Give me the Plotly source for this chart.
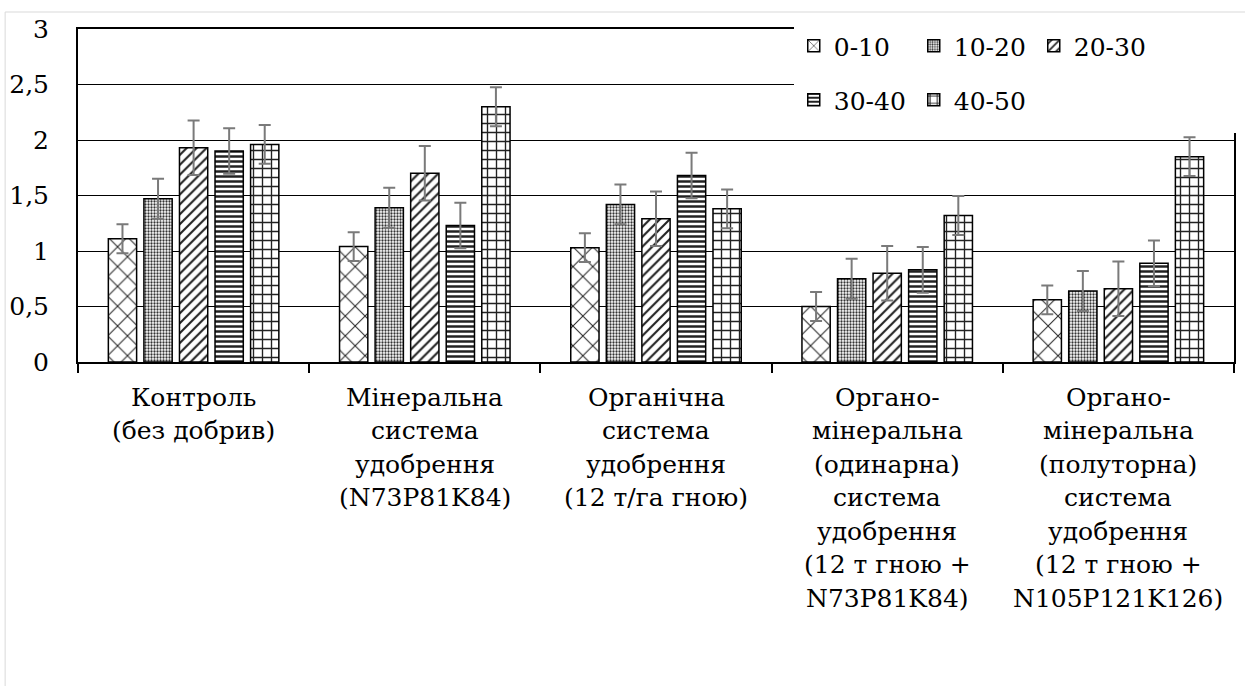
import plotly.graph_objects as go

categories = [
    "Контроль<br>(без добрив)",
    "Мінеральна<br>система<br>удобрення<br>(N73P81K84)",
    "Органічна<br>система<br>удобрення<br>(12 т/га гною)",
    "Органо-<br>мінеральна<br>(одинарна)<br>система<br>удобрення<br>(12 т гною +<br>N73P81K84)",
    "Органо-<br>мінеральна<br>(полуторна)<br>система<br>удобрення<br>(12 т гною +<br>N105P121K126)",
]
layers = ["0-10", "10-20", "20-30", "30-40", "40-50"]
v_0_10 = [1.11, 1.04, 1.03, 0.50, 0.56]
v_10_20 = [1.47, 1.39, 1.42, 0.75, 0.64]
v_20_30 = [1.93, 1.70, 1.29, 0.80, 0.66]
v_30_40 = [1.90, 1.23, 1.68, 0.83, 0.89]
v_40_50 = [1.96, 2.30, 1.38, 1.32, 1.85]
err = [0.13, 0.18, 0.245, 0.205, 0.175]

values = [v_0_10, v_10_20, v_20_30, v_30_40, v_40_50]
patterns = [
    dict(shape="x", size=14, solidity=0.14, fgcolor="#222", bgcolor="white", fillmode="replace"),
    dict(shape=".", size=3, solidity=0.45, fgcolor="#333", bgcolor="white", fillmode="replace"),
    dict(shape="/", size=7, solidity=0.3, fgcolor="#222", bgcolor="white", fillmode="replace"),
    dict(shape="-", size=5, solidity=0.5, fgcolor="#222", bgcolor="white", fillmode="replace"),
    dict(shape="+", size=9, solidity=0.28, fgcolor="#222", bgcolor="white", fillmode="replace"),
]
legend_ids = ["legend", "legend", "legend", "legend2", "legend2"]

FONT = "DejaVu Serif"
FS = 25

fig = go.Figure()
for name, vals, e, pat, lg in zip(layers, values, err, patterns, legend_ids):
    fig.add_trace(go.Bar(
        x=categories, y=vals, name=name, legend=lg,
        marker=dict(color="white", pattern=pat, line=dict(color="black", width=1.5)),
        error_y=dict(type="constant", value=e, color="#7a7a7a", thickness=2, width=6),
    ))

# category labels, one annotation per text line (tighter line spacing like the original)
for cat in categories:
    for j, line in enumerate(cat.split("<br>")):
        fig.add_annotation(x=cat, xref="x", y=0, yref="y", yanchor="middle",
                           yshift=-(35 + 33.5 * j), text=line, showarrow=False,
                           font=dict(family=FONT, size=FS, color="black"))

W, H = 1245, 686
L, R, T, B = 78, 9, 29, 324
pw, ph = W - L - R, H - T - B

def px_x(x):
    return (x - L) / pw

def px_y(y):
    return (H - B - y) / ph

fig.update_layout(
    width=W, height=H,
    margin=dict(l=L, r=R, t=T, b=B),
    paper_bgcolor="white", plot_bgcolor="white",
    separators=", ",
    barmode="group", bargap=0.231, bargroupgap=0.205,
    font=dict(family=FONT, size=FS, color="black"),
    legend=dict(orientation="h", x=px_x(795), xanchor="left", y=px_y(46), yanchor="middle",
                bgcolor="white", entrywidth=75, entrywidthmode="pixels", itemwidth=30,
                font=dict(family=FONT, size=FS, color="black"), itemclick=False),
    legend2=dict(orientation="h", x=px_x(795), xanchor="left", y=px_y(100), yanchor="middle",
                 bgcolor="white", entrywidth=75, entrywidthmode="pixels", itemwidth=30,
                 font=dict(family=FONT, size=FS, color="black"), itemclick=False),
    shapes=[
        dict(type="rect", xref="paper", yref="paper", x0=px_x(798), x1=1.1, y0=px_y(133), y1=px_y(14),
             fillcolor="white", line=dict(width=0), layer="above"),
        dict(type="rect", xref="paper", yref="paper", x0=px_x(5), x1=px_x(1260), y0=px_y(760), y1=px_y(12),
             fillcolor="rgba(0,0,0,0)", line=dict(color="#d9d9d9", width=1), layer="below"),
    ],
)
fig.update_yaxes(range=[0, 3], dtick=0.5, showgrid=True, gridcolor="black", gridwidth=1.2,
                 showline=True, linecolor="black", linewidth=2, mirror=True, zeroline=False,
                 ticks="", ticklabelstandoff=22, tickfont=dict(family=FONT, size=FS))
fig.update_xaxes(showline=True, linecolor="black", linewidth=2, mirror=True,
                 ticks="outside", tickson="boundaries", ticklen=9, tickwidth=2, tickcolor="black",
                 showticklabels=False)

fig.write_html("out.html", config={"displayModeBar": False},
               post_script="document.body.style.margin='0';document.body.style.overflow='hidden';")
